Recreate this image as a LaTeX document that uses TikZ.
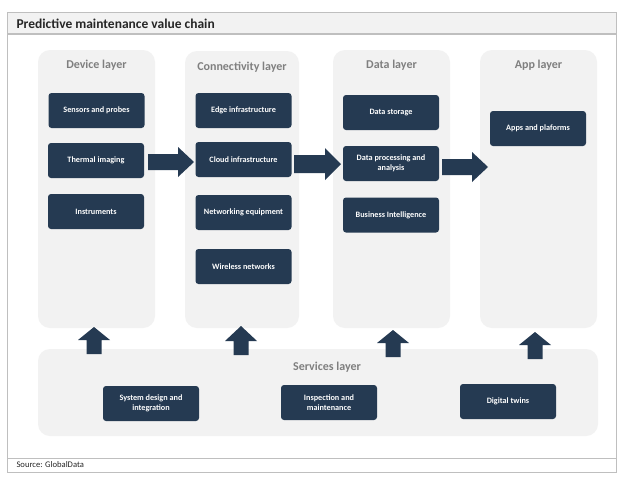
\documentclass[tikz,border=0pt]{standalone}
\usepackage{fontspec}
\setmainfont{Carlito}
\definecolor{navy}{HTML}{253A52}
\definecolor{colgray}{HTML}{F2F2F2}
\definecolor{hdrgray}{HTML}{7F7F7F}
\definecolor{framegray}{HTML}{BFBFBF}
\tikzset{
  colbox/.style={fill=colgray, rounded corners=12pt, minimum width=#1, inner sep=0pt},
  navybox/.style={fill=navy, rounded corners=3pt, text=white, font=\fontsize{8.2}{9.5}\selectfont\bfseries,
    align=center, minimum width=96pt, minimum height=35pt, inner sep=0pt},
  hdr/.style={text=hdrgray, font=\fontsize{12}{14}\selectfont\bfseries},
  blk/.style={fill=navy},
}
\newcommand{\rarrow}[6]{% tail, headstart, tip, y, shafthalf, headhalf
  \fill[blk] (#1,#4-#5) -- (#2,#4-#5) -- (#2,#4-#6) -- (#3,#4) -- (#2,#4+#6) -- (#2,#4+#5) -- (#1,#4+#5) -- cycle;}
\newcommand{\uarrow}[6]{% x, bottom, headbase, top, shafthalf, headhalf
  \fill[blk] (#1-#5,#2) -- (#1-#5,#3) -- (#1-#6,#3) -- (#1,#4) -- (#1+#6,#3) -- (#1+#5,#3) -- (#1+#5,#2) -- cycle;}
\begin{document}
\begin{tikzpicture}[x=1pt,y=-1pt]
\useasboundingbox (0,0) rectangle (624,480);
% frame
\fill[white] (7,12) rectangle (616,472);
\fill[colgray] (7,12) rectangle (616,34);
\draw[framegray, line width=0.8pt] (7,12) rectangle (616,472);
\draw[framegray, line width=1.2pt] (7,34) -- (616,34);
\draw[framegray, line width=0.8pt] (7,458) -- (616,458);
\node[anchor=west, font=\fontsize{13.5}{15}\selectfont\bfseries, text=black!85] (title) at (13,23.5) {Predictive maintenance value chain};
\node[anchor=west, font=\fontsize{8.6}{10}\selectfont, text=black!85] (src) at (13,465) {Source: GlobalData};
% columns
\node[colbox=117pt, minimum height=278pt] (devcol) at (96.5,189) {};
\node[colbox=114pt, minimum height=277pt] (concol) at (242,189.5) {};
\node[colbox=117pt, minimum height=278pt] (datcol) at (391.5,189) {};
\node[colbox=117pt, minimum height=278pt] (appcol) at (538.5,189) {};
\node[colbox=560pt, minimum height=87pt] (srvcol) at (318,392.5) {};
% headers
\node[hdr] (devh) at (96.5,65) {Device layer};
\node[hdr] (conh) at (242,67) {Connectivity layer};
\node[hdr] (dath) at (391.5,65) {Data layer};
\node[hdr] (apph) at (538.5,65) {App layer};
\node[hdr] (srvh) at (327,367) {Services layer};
% device
\node[navybox] (d1) at (96.5,110.5) {Sensors and probes};
\node[navybox] (d2) at (96,160.5) {Thermal imaging};
\node[navybox] (d3) at (96,211.5) {Instruments};
% connectivity
\node[navybox] (c1) at (243.5,110.5) {Edge infrastructure};
\node[navybox] (c2) at (243.5,159.5) {Cloud infrastructure};
\node[navybox] (c3) at (243.5,212.5) {Networking equipment};
\node[navybox] (c4) at (243.5,266.5) {Wireless networks};
% data
\node[navybox] (t1) at (391,112.5) {Data storage};
\node[navybox] (t2) at (391,163.5) {Data processing and\\analysis};
\node[navybox] (t3) at (391,215) {Business Intelligence};
% app
\node[navybox] (a1) at (538,128.5) {Apps and plaforms};
% services
\node[navybox] (s1) at (151,403.5) {System design and\\integration};
\node[navybox] (s2) at (329,402.5) {Inspection and\\maintenance};
\node[navybox] (s3) at (508,401.5) {Digital twins};
% right arrows
\rarrow{148}{178}{194}{162}{8}{15}
\rarrow{294}{325}{341}{164}{9}{16}
\rarrow{442}{472}{488}{167}{8}{15}
% up arrows
\uarrow{94}{354}{340}{327}{7.5}{16}
\uarrow{241}{355}{341}{326}{7.5}{16}
\uarrow{393}{357}{343}{330}{7.5}{16}
\uarrow{535}{359}{345}{332}{7.5}{16}
\end{tikzpicture}
\end{document}
